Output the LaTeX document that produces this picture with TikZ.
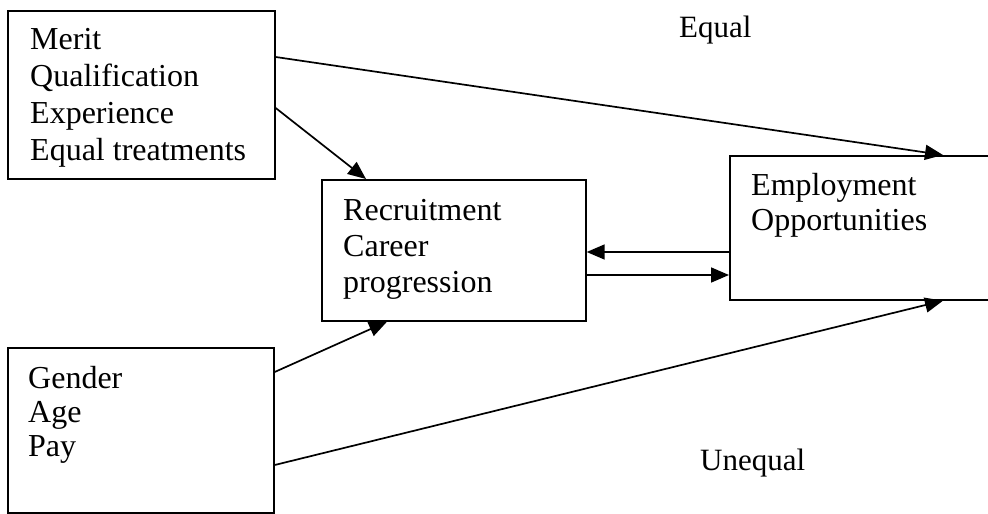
\documentclass[tikz,border=0pt]{standalone}
\usepackage{fontspec}
\setmainfont{Liberation Serif}
\usetikzlibrary{arrows.meta}
\begin{document}
\begin{tikzpicture}[x=1pt,y=-1pt,
  box/.style={draw, line width=1.7pt, anchor=north west, inner sep=0pt},
  txt/.style={anchor=base west, inner sep=0pt, align=left, font=\fontsize{32}{36.7}\selectfont},
  lbl/.style={anchor=base west, inner sep=0pt, font=\fontsize{31}{36}\selectfont},
  arr/.style={line width=1.7pt, -{Triangle[length=18pt,width=15pt]}}]
\useasboundingbox (0,0) rectangle (988,514);
\clip (0,0) rectangle (988,514);
\node[box, minimum width=267pt, minimum height=168pt] (A) at (7,10) {};
\node[box, minimum width=266pt, minimum height=165pt] (B) at (7,347) {};
\node[box, minimum width=264pt, minimum height=141pt] (C) at (321,179) {};
\node[box, minimum width=320pt, minimum height=144pt] (D) at (729,155) {};
\node[txt] (tA) at (30,160) {Merit\\Qualification\\Experience\\Equal treatments};
\node[txt, font=\fontsize{32}{34}\selectfont] (tB) at (28,456) {Gender\\Age\\Pay};
\node[txt, font=\fontsize{32}{36}\selectfont] (tC) at (343,292) {Recruitment\\Career\\progression};
\node[txt, font=\fontsize{32}{35}\selectfont] (tD) at (751,230) {Employment\\Opportunities};
\node[lbl] (eq) at (679,37) {Equal};
\node[lbl] (ueq) at (700,470) {Unequal};
\draw[arr] ([yshift=-47pt]A.north east) -- ([xshift=214pt]D.north west);
\draw[arr] ([yshift=-98pt]A.north east) -- ([xshift=45pt]C.north west);
\draw[arr] ([yshift=-25pt]B.north east) -- ([xshift=66pt]C.south west);
\draw[arr] ([yshift=-118pt]B.north east) -- ([xshift=214pt]D.south west);
\draw[arr] ([yshift=-97pt]D.north west) -- ([yshift=-73pt]C.north east);
\draw[arr] ([yshift=-96pt]C.north east) -- ([yshift=-120pt]D.north west);
\end{tikzpicture}
\end{document}
